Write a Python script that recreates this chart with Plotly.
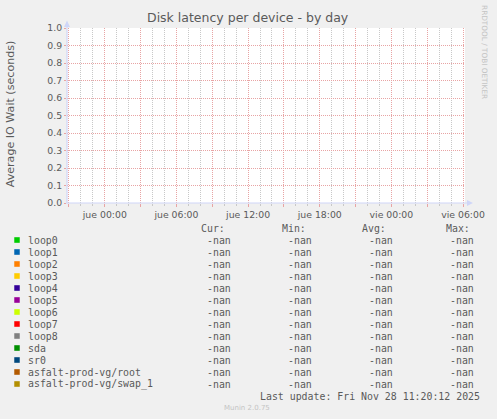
import plotly.graph_objects as go

# ---- data ----
series_names = ["loop0", "loop1", "loop2", "loop3", "loop4", "loop5", "loop6",
                "loop7", "loop8", "sda", "sr0", "asfalt-prod-vg/root",
                "asfalt-prod-vg/swap_1"]
series_colors = ["#00CC00", "#0066B3", "#FF8000", "#FFCC00", "#330099", "#990099",
                 "#CCFF00", "#FF0000", "#808080", "#008F00", "#00487D", "#B35A00",
                 "#B38F00"]
sample_times = ["2025-11-26 20:50", "2025-11-28 06:10"]
series_values = {name: [None, None] for name in series_names}  # all -nan
cur_vals = ["-nan"] * 13
min_vals = ["-nan"] * 13
avg_vals = ["-nan"] * 13
max_vals = ["-nan"] * 13
x_range = ["2025-11-26 20:50", "2025-11-28 06:10"]
major_tick_vals = ["2025-11-26 21:00", "2025-11-27 00:00", "2025-11-27 03:00",
                   "2025-11-27 06:00", "2025-11-27 09:00", "2025-11-27 12:00",
                   "2025-11-27 15:00", "2025-11-27 18:00", "2025-11-27 21:00",
                   "2025-11-28 00:00", "2025-11-28 03:00", "2025-11-28 06:00"]
major_tick_text = ["", "jue 00:00", "", "jue 06:00", "", "jue 12:00", "",
                   "jue 18:00", "", "vie 00:00", "", "vie 06:00"]
y_ticks = [0.0, 0.1, 0.2, 0.3, 0.4, 0.5, 0.6, 0.7, 0.8, 0.9, 1.0]
title_text = "Disk latency per device - by day"
y_title = "Average IO Wait (seconds)"
last_update = "Last update: Fri Nov 28 11:20:12 2025"
version_text = "Munin 2.0.75"
side_text = "RRDTOOL / TOBI OETIKER"

# ---- layout geometry (pixels) ----
W, H = 497, 419
L, R, T, B = 67, 467, 28, 203


def px(xp):
    return (xp - L) / (R - L)


def py(yp):
    return (B - yp) / (B - T)


FONT = "DejaVu Sans"
MONO = "DejaVu Sans Mono"
TXT = "#5a5a5a"
AXIS = "#CFD6F8"
MGRID = "#E8A4A4"
GRID = "#C8C8C8"
DOTS = "1px,1px"

fig = go.Figure()
for name, color in zip(series_names, series_colors):
    fig.add_trace(go.Scatter(x=sample_times, y=series_values[name], mode="lines",
                             name=name, line=dict(color=color, width=1),
                             showlegend=False))

ann = []
shapes = []

ann.append(dict(text=title_text, x=px(249), y=py(18), xref="paper", yref="paper",
                showarrow=False, font=dict(family=FONT, size=12.5, color=TXT),
                xanchor="center", yanchor="middle"))
ann.append(dict(text=y_title, x=px(10), y=py(114), xref="paper", yref="paper",
                showarrow=False, textangle=-90,
                font=dict(family=FONT, size=11.1, color=TXT),
                xanchor="center", yanchor="middle"))
ann.append(dict(text=side_text, x=px(487), y=py(52), xref="paper", yref="paper",
                showarrow=False, textangle=90,
                font=dict(family=FONT, size=7.3, color="#c4c4c4"),
                xanchor="center", yanchor="middle"))

# legend header
headers = [("Cur:", 227), ("Min:", 308.5), ("Avg:", 388.5), ("Max:", 473)]
for h, xr in headers:
    ann.append(dict(text=h, x=px(xr), y=py(228.3), xref="paper", yref="paper",
                    showarrow=False, font=dict(family=MONO, size=9.9, color=TXT),
                    xanchor="right", yanchor="middle", borderpad=0))

col_right = [233, 314.5, 396, 477]
for i, name in enumerate(series_names):
    yc = 240 + 12 * i
    shapes.append(dict(type="rect", xref="paper", yref="paper",
                       x0=px(14), x1=px(19.5), y0=py(yc - 2.8), y1=py(yc + 2.8),
                       fillcolor=series_colors[i], line=dict(width=0)))
    ann.append(dict(text=name, x=px(26.5), y=py(yc), xref="paper", yref="paper",
                    showarrow=False, font=dict(family=MONO, size=9.9, color=TXT),
                    xanchor="left", yanchor="middle", borderpad=0))
    for vals, xr in zip([cur_vals, min_vals, avg_vals, max_vals], col_right):
        ann.append(dict(text=vals[i], x=px(xr), y=py(yc), xref="paper", yref="paper",
                        showarrow=False, font=dict(family=MONO, size=9.9, color=TXT),
                        xanchor="right", yanchor="middle", borderpad=0))

ann.append(dict(text=last_update, x=px(483), y=py(396), xref="paper", yref="paper",
                showarrow=False, font=dict(family=MONO, size=9.9, color=TXT),
                xanchor="right", yanchor="middle", borderpad=0))
ann.append(dict(text=version_text, x=px(248), y=py(408), xref="paper", yref="paper",
                showarrow=False, font=dict(family=FONT, size=7, color="#c4c4c4"),
                xanchor="center", yanchor="middle", borderpad=0))

# axis lines with arrows
shapes.append(dict(type="line", xref="paper", yref="paper", x0=px(67), x1=px(67),
                   y0=py(203.5), y1=py(24), line=dict(color=AXIS, width=1.2), layer="above"))
shapes.append(dict(type="line", xref="paper", yref="paper", x0=px(66.5), x1=px(470),
                   y0=py(203), y1=py(203), line=dict(color=AXIS, width=1.2), layer="above"))
shapes.append(dict(type="path", xref="paper", yref="paper",
                   path=f"M {px(64)} {py(27)} L {px(70)} {py(27)} L {px(67)} {py(20.5)} Z",
                   fillcolor=AXIS, line=dict(width=0), layer="above"))
shapes.append(dict(type="path", xref="paper", yref="paper",
                   path=f"M {px(469)} {py(200)} L {px(469)} {py(206)} L {px(475)} {py(203)} Z",
                   fillcolor=AXIS, line=dict(width=0), layer="above"))

fig.update_layout(
    width=W, height=H,
    margin=dict(l=L, r=W - R, t=T, b=H - B, pad=0),
    paper_bgcolor="#F0F0F0", plot_bgcolor="#FFFFFF",
    showlegend=False,
    annotations=ann, shapes=shapes,
    xaxis=dict(type="date", range=x_range, tickmode="array",
               tickvals=major_tick_vals, ticktext=major_tick_text,
               showgrid=True, gridcolor=MGRID, griddash=DOTS, gridwidth=1,
               ticks="outside", ticklen=3, tickcolor=MGRID, tickwidth=1,
               tickfont=dict(family=FONT, size=9.33, color=TXT),
               showline=False, zeroline=False, fixedrange=True,
               minor=dict(dtick=3600000, showgrid=True, gridcolor=GRID,
                          griddash=DOTS, gridwidth=1, ticks="outside",
                          ticklen=2, tickcolor=GRID)),
    yaxis=dict(range=[0, 1.0], tickmode="array", tickvals=y_ticks,
               ticktext=[f"{v:.1f}" for v in y_ticks],
               showgrid=True, gridcolor=MGRID, griddash=DOTS, gridwidth=1,
               ticks="outside", ticklen=2, tickcolor=MGRID,
               tickfont=dict(family=FONT, size=9.33, color=TXT),
               showline=False, zeroline=False, fixedrange=True),
)

fig.write_html("out.html", config={"displayModeBar": False},
               post_script="document.body.style.margin='0';document.body.style.background='#F0F0F0';")
